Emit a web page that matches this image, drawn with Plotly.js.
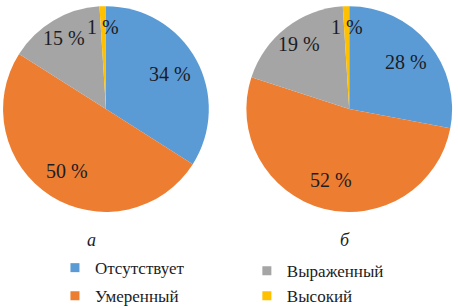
<!DOCTYPE html>
<html>
<head>
<meta charset="utf-8">
<script src="https://cdn.plot.ly/plotly-3.0.1.min.js"></script>
<style>html,body{margin:0;padding:0;background:#fff;}#chart{width:458px;height:308px;}</style>
</head>
<body>
<div id="chart"></div>
<script>
var categories = ["Отсутствует", "Умеренный", "Выраженный", "Высокий"];
var valuesA = [34, 50, 15, 1];
var valuesB = [28, 52, 19, 1];
var panelLabels = ["а", "б"];
var colors = ["#5B9BD5", "#ED7D31", "#A5A5A5", "#FFC000"];

var W = 458, H = 308;
var serif = '"Liberation Serif", "Times New Roman", "DejaVu Serif", serif';
var textColor = "#1c1c24";

var domains = [
  {x: [0.0066, 0.456], y: [0.312, 0.98]},
  {x: [0.535, 0.99], y: [0.312, 0.98]}
];

function pieTrace(vals, dom) {
  return {
    type: "pie",
    labels: categories,
    values: vals,
    sort: false,
    direction: "clockwise",
    rotation: 0,
    marker: {colors: colors, line: {width: 0}},
    textinfo: "none",
    hoverinfo: "none",
    showlegend: false,
    domain: dom
  };
}

var seriesList = [valuesA, valuesB];
var data = seriesList.map(function (v, k) { return pieTrace(v, domains[k]); });

// legend-only entries: column 1 -> first two categories, column 2 -> last two
categories.forEach(function (c, i) {
  data.push({
    type: "scatter",
    x: [null], y: [null],
    mode: "markers",
    name: c,
    marker: {symbol: "square", size: 9, color: colors[i]},
    legend: i < 2 ? "legend" : "legend2",
    legendgroup: "g" + i,
    hoverinfo: "skip"
  });
});

// slice value labels, placed on each slice's mid-angle (clockwise from 12 o'clock)
var annotations = [];
seriesList.forEach(function (vals, k) {
  var dom = domains[k];
  var cx = (dom.x[0] + dom.x[1]) / 2, cy = (dom.y[0] + dom.y[1]) / 2;
  var rPx = Math.min((dom.x[1] - dom.x[0]) * W, (dom.y[1] - dom.y[0]) * H) / 2;
  var total = vals.reduce(function (a, b) { return a + b; }, 0);
  var cum = 0;
  vals.forEach(function (v) {
    var share = v / total;
    var mid = (cum + share / 2) * 2 * Math.PI;
    cum += share;
    var frac = share >= 0.25 ? 0.71 : 0.8;
    annotations.push({
      text: v + " %",
      xref: "paper", yref: "paper",
      x: cx + frac * rPx * Math.sin(mid) / W,
      y: cy + frac * rPx * Math.cos(mid) / H,
      xanchor: "center", yanchor: "middle",
      showarrow: false,
      font: {family: serif, size: 20, color: textColor}
    });
  });
});

panelLabels.forEach(function (t, k) {
  annotations.push({
    text: t, xref: "paper", yref: "paper",
    x: k === 0 ? 0.199 : 0.753, y: 0.221,
    xanchor: "center", yanchor: "middle", showarrow: false,
    font: {family: serif, size: 18, color: textColor, style: "italic"}
  });
});

var legendBase = {
  orientation: "v",
  xanchor: "left",
  yanchor: "top",
  bgcolor: "rgba(0,0,0,0)",
  font: {family: serif, size: 17, color: textColor},
  traceorder: "grouped",
  tracegroupgap: 0,
  itemclick: false,
  itemdoubleclick: false
};

var layout = {
  width: W,
  height: H,
  margin: {l: 0, r: 0, t: 0, b: 0, autoexpand: false},
  paper_bgcolor: "#fff",
  plot_bgcolor: "#fff",
  xaxis: {visible: false},
  yaxis: {visible: false},
  legend: Object.assign({}, legendBase, {x: 0.12, y: 0.188, tracegroupgap: 3}),
  legend2: Object.assign({}, legendBase, {x: 0.539, y: 0.178}),
  annotations: annotations
};

Plotly.newPlot("chart", data, layout, {staticPlot: true, displayModeBar: false});
</script>
</body>
</html>
